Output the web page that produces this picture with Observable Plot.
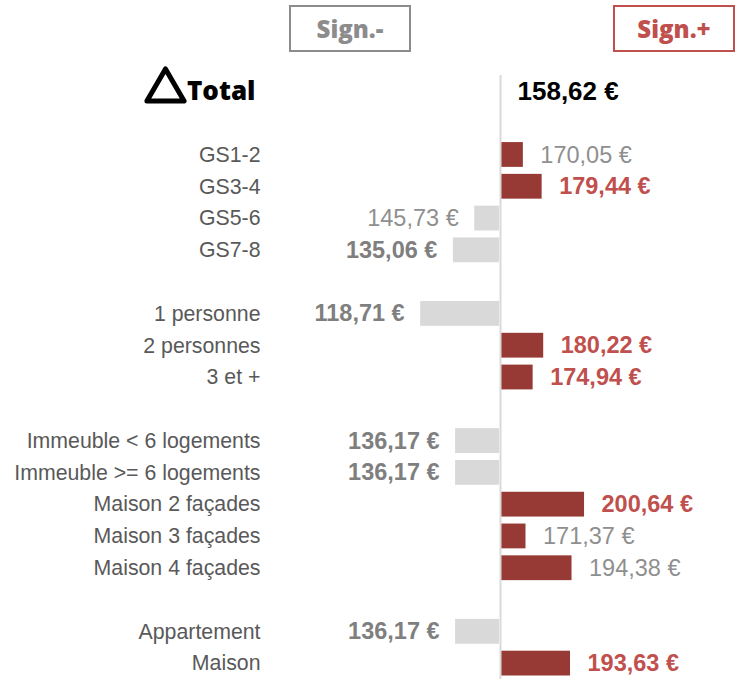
<!DOCTYPE html>
<html>
<head>
<meta charset="utf-8">
<script src="https://cdn.jsdelivr.net/npm/d3@7"></script>
<script src="https://cdn.jsdelivr.net/npm/@observablehq/plot@0.6"></script>
<style>
  body { margin: 0; background: #fff; }
  #wrap { position: relative; width: 739px; height: 681px; overflow: hidden; }
  .box { position: absolute; top: 5px; width: 118px; height: 43px; border: 2px solid;
         font: 800 24px "Open Sans", Roboto, sans-serif; display: flex; align-items: center; justify-content: center; }
  #neg { left: 289px; border-color: #8c8c8c; color: #8c8c8c; }
  #pos { left: 613px; border-color: #c0504d; color: #c0504d; }
  #chart { position: absolute; left: 0; top: 58px; }
</style>
</head>
<body>
<div id="wrap">
  <div class="box" id="neg">Sign.-</div>
  <div class="box" id="pos">Sign.+</div>
  <div id="chart"></div>
</div>
<script>
const total = 158.62;
const rows = ["Total", "_1", "GS1-2", "GS3-4", "GS5-6", "GS7-8", "_2",
  "1 personne", "2 personnes", "3 et +", "_3",
  "Immeuble < 6 logements", "Immeuble >= 6 logements", "Maison 2 façades", "Maison 3 façades", "Maison 4 façades", "_4",
  "Appartement", "Maison"];
const categories = ["GS1-2", "GS3-4", "GS5-6", "GS7-8",
  "1 personne", "2 personnes", "3 et +",
  "Immeuble < 6 logements", "Immeuble >= 6 logements", "Maison 2 façades", "Maison 3 façades", "Maison 4 façades",
  "Appartement", "Maison"];
const values = [170.05, 179.44, 145.73, 135.06,
  118.71, 180.22, 174.94,
  136.17, 136.17, 200.64, 171.37, 194.38,
  136.17, 193.63];
const significant = [false, true, false, true,
  true, true, true,
  true, true, true, false, false,
  true, true];

const fmt = v => v.toFixed(2).replace(".", ",") + " €";
const data = categories.map((c, i) => ({cat: c, value: values[i], diff: values[i] - total, sig: significant[i], label: fmt(values[i])}));
const pos = data.filter(d => d.diff > 0), neg = data.filter(d => d.diff < 0);

const font = "Liberation Sans, Arial, sans-serif";
const vs = 23.5;
const plot = Plot.plot({
  width: 739, height: 623,
  marginLeft: 260, marginRight: 0, marginTop: 17, marginBottom: 2,
  style: {fontFamily: font, background: "transparent", overflow: "visible"},
  x: {domain: [-120, 119.5], axis: null},
  y: {domain: rows, paddingInner: 0.22, paddingOuter: 0.11, round: false, axis: null},
  marks: [
    Plot.barX(pos, {y: "cat", x1: 0, x2: "diff", fill: "#973a36", insetLeft: 1}),
    Plot.barX(neg, {y: "cat", x1: 0, x2: "diff", fill: "#d9d9d9", insetRight: 1}),
    Plot.ruleX([0], {stroke: "#d9d9d9", strokeWidth: 2}),
    Plot.axisY(categories, {tickSize: 0, tickPadding: 0, fontSize: 21.3, fill: "#595959", label: null}),
    Plot.text(pos.filter(d => d.sig), {y: "cat", x: "diff", text: "label", dx: 17, textAnchor: "start", fill: "#c0504d", fontWeight: "bold", fontSize: vs}),
    Plot.text(pos.filter(d => !d.sig), {y: "cat", x: "diff", text: "label", dx: 17, textAnchor: "start", fill: "#8f8f8f", fontSize: vs}),
    Plot.text(neg.filter(d => d.sig), {y: "cat", x: "diff", text: "label", dx: -16, textAnchor: "end", fill: "#7f7f7f", fontWeight: "bold", fontSize: vs}),
    Plot.text(neg.filter(d => !d.sig), {y: "cat", x: "diff", text: "label", dx: -16, textAnchor: "end", fill: "#8f8f8f", fontSize: vs}),
    Plot.text([{cat: "Total", diff: 0, label: fmt(total)}], {y: "cat", x: "diff", text: "label", dx: 17, textAnchor: "start", fill: "#000", fontWeight: "bold", fontSize: 26}),
    Plot.text([{cat: "Total", label: "Total"}], {y: "cat", frameAnchor: "left", text: "label", dx: -5, textAnchor: "end", fill: "#000", fontWeight: 800, fontSize: 26, fontFamily: "Open Sans, sans-serif"}),
    Plot.dot([{cat: "Total"}], {y: "cat", frameAnchor: "left", dx: -95, dy: -1, symbol: "triangle", r: 13.8, fill: "none", stroke: "#000", strokeWidth: 5, strokeLinejoin: "round"})
  ]
});
document.getElementById("chart").appendChild(plot);
</script>
</body>
</html>
